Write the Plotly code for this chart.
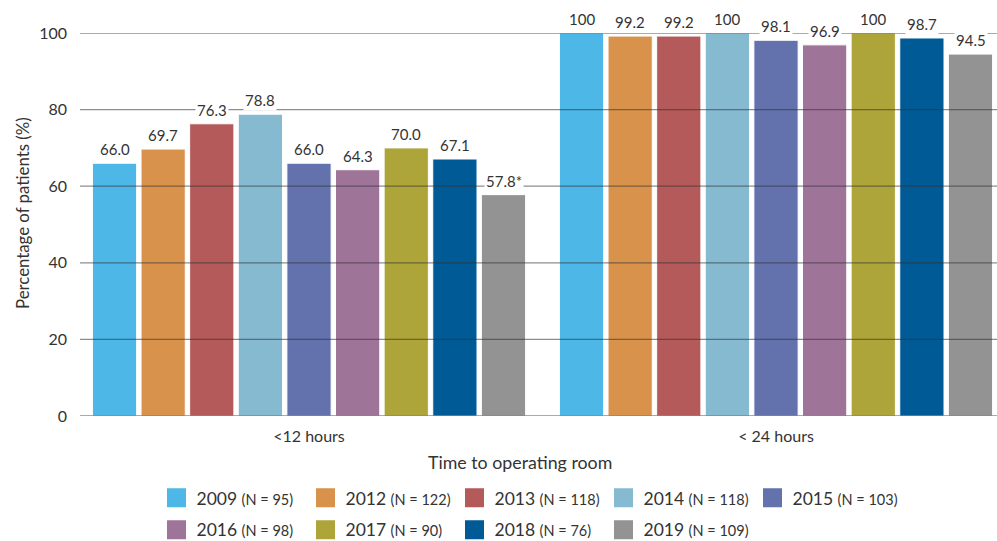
import plotly.graph_objects as go

categories = ["<12 hours", "< 24 hours"]
years = ["2009", "2012", "2013", "2014", "2015", "2016", "2017", "2018", "2019"]
n_values = [95, 122, 118, 118, 103, 98, 90, 76, 109]
under12 = [66.0, 69.7, 76.3, 78.8, 66.0, 64.3, 70.0, 67.1, 57.8]
under24 = [100, 99.2, 99.2, 100, 98.1, 96.9, 100, 98.7, 94.5]
labels12 = ["66.0", "69.7", "76.3", "78.8", "66.0", "64.3", "70.0", "67.1", "57.8*"]
labels24 = ["100", "99.2", "99.2", "100", "98.1", "96.9", "100", "98.7", "94.5"]
colors = ["#4DB7E8", "#D8924B", "#B45A5A", "#85BAD1", "#6372AD",
          "#9F7499", "#ADA43A", "#005A96", "#939393"]
yticks = [0, 20, 40, 60, 80, 100]

FONT = "Lato, 'Open Sans', sans-serif"
TXT = "#333333"
BARGAP = 0.063
BARGROUPGAP = 0.09

fig = go.Figure()
xpos = list(range(len(categories)))
for i, y in enumerate(years):
    fig.add_trace(go.Bar(
        x=xpos, y=[under12[i], under24[i]], name=y,
        marker=dict(color=colors[i], line=dict(color="white", width=1)),
        showlegend=False, hoverinfo="skip"))

# legend entries (two rows)
for i, y in enumerate(years):
    fig.add_trace(go.Scatter(
        x=[None], y=[None], mode="markers",
        marker=dict(symbol="square", size=20, color=colors[i],
                    line=dict(color=colors[i], width=3)),
        name=f"{y} <span style='font-size:14.5px'>(N = {n_values[i]})</span>",
        legend="legend" if i < 5 else "legend2"))

# gridlines drawn above bars
for t in yticks:
    fig.add_shape(type="line", xref="paper", yref="y", x0=0, x1=1, y0=t, y1=t,
                  line=dict(color="rgba(50,50,50,0.55)", width=1.3), layer="above")

# value labels
slot = (1 - BARGAP) / len(years)
for j, vals, labs in [(0, under12, labels12), (1, under24, labels24)]:
    for i in range(len(years)):
        xc = j - (1 - BARGAP) / 2 + (i + 0.5) * slot
        fig.add_annotation(x=xc, y=vals[i], text=labs[i], showarrow=False,
                           yanchor="bottom", yshift=3, bgcolor="white", borderpad=1,
                           font=dict(family=FONT, size=15, color=TXT))

# axis titles
fig.add_annotation(xref="paper", yref="paper", x=0.48, y=-0.12, text="Time to operating room",
                   showarrow=False, xanchor="center", yanchor="middle",
                   font=dict(family=FONT, size=17.8, color=TXT))
fig.add_annotation(xref="paper", yref="paper", x=-0.0633, y=0.53, text="Percentage of patients (%)",
                   showarrow=False, xanchor="center", yanchor="middle", textangle=-90,
                   font=dict(family=FONT, size=16.8, color=TXT))

leg_common = dict(orientation="h", xref="container", yref="container",
                  xanchor="left", yanchor="top", entrywidth=104,
                  font=dict(family=FONT, size=17.5, color=TXT),
                  itemsizing="trace", bgcolor="rgba(0,0,0,0)", tracegroupgap=0)

fig.update_layout(
    width=997, height=541,
    margin=dict(l=80, r=0, t=33, b=125, autoexpand=False),
    barmode="group", bargap=BARGAP, bargroupgap=BARGROUPGAP,
    plot_bgcolor="white", paper_bgcolor="white",
    font=dict(family=FONT, size=16, color=TXT),
    xaxis=dict(range=[-0.4904, 1.4732], tickvals=xpos, ticktext=categories,
               showgrid=False, zeroline=False, showline=False, ticks="",
               ticklabelstandoff=9, tickfont=dict(size=16, color=TXT)),
    yaxis=dict(range=[0, 100], tickvals=yticks, showgrid=False, zeroline=False,
               showline=False, ticks="", ticklabelstandoff=12,
               tickfont=dict(size=16, color=TXT)),
    legend=dict(x=0.157, y=0.113, **leg_common),
    legend2=dict(x=0.157, y=0.054, **leg_common),
)

fig.write_html("out.html", config={"displayModeBar": False},
               post_script="document.body.style.margin='0px';")
